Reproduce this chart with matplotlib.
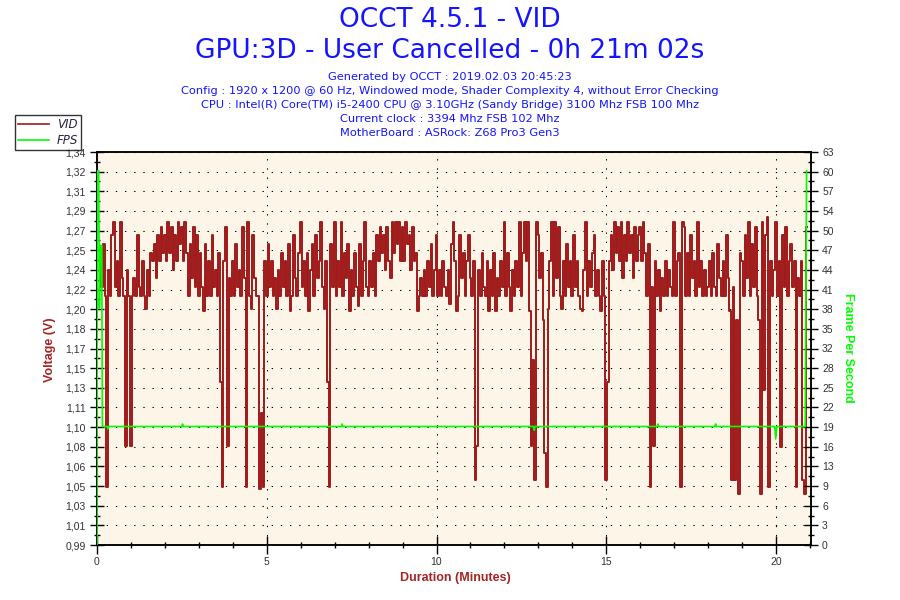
import numpy as np
import matplotlib
matplotlib.use("Agg")
import matplotlib.pyplot as plt
from matplotlib.lines import Line2D

# ---- text ----
title_lines = ["OCCT 4.5.1 - VID", "GPU:3D - User Cancelled - 0h 21m 02s"]
info_lines = [
    "Generated by OCCT : 2019.02.03 20:45:23",
    "Config : 1920 x 1200 @ 60 Hz, Windowed mode, Shader Complexity 4, without Error Checking",
    "CPU : Intel(R) Core(TM) i5-2400 CPU @ 3.10GHz (Sandy Bridge) 3100 Mhz FSB 100 Mhz",
    "Current clock : 3394 Mhz FSB 102 Mhz",
    "MotherBoard : ASRock: Z68 Pro3 Gen3",
]

# ---- axes ----
volt_min, volt_max = 0.99, 1.34
volt_labels = ["0,99", "1,01", "1,03", "1,05", "1,06", "1,08", "1,10", "1,11", "1,13", "1,15",
               "1,17", "1,18", "1,20", "1,22", "1,24", "1,25", "1,27", "1,29", "1,31", "1,32", "1,34"]
fps_max = 63
fps_labels = ["0", "3", "6", "9", "13", "16", "19", "22", "25", "28", "32",
              "35", "38", "41", "44", "47", "50", "54", "57", "60", "63"]
x_max = 21.03
x_ticks = [0, 5, 10, 15, 20]

# ---- VID samples, one every 3 s (0.05 min), starting at 0.10 min ----
vid_start = 0.10
vid_step = 0.05
vid_m00 = [1.250, 1.220, 1.258, 1.212, 1.042, 1.235, 1.212, 1.266, 1.278, 1.220,
           1.243, 1.212, 1.278, 1.228, 1.212, 1.078, 1.235, 1.212]
vid_m01 = [1.078, 1.212, 1.228, 1.212, 1.266, 1.220, 1.212, 1.243, 1.212, 1.200,
           1.235, 1.212, 1.250, 1.243, 1.258, 1.228, 1.266, 1.243, 1.273, 1.250]
vid_m02 = [1.266, 1.243, 1.278, 1.250, 1.273, 1.235, 1.266, 1.243, 1.278, 1.258,
           1.273, 1.243, 1.278, 1.250, 1.212, 1.258, 1.228, 1.273, 1.220, 1.266]
vid_m03 = [1.212, 1.250, 1.220, 1.198, 1.258, 1.212, 1.243, 1.212, 1.266, 1.220,
           1.235, 1.212, 1.250, 1.135, 1.042, 1.243, 1.273, 1.078, 1.228, 1.212]
vid_m04 = [1.243, 1.212, 1.258, 1.220, 1.235, 1.212, 1.273, 1.228, 1.042, 1.278,
           1.212, 1.200, 1.266, 1.228, 1.212, 1.212, 1.040, 1.108, 1.042, 1.243]
vid_m05 = [1.212, 1.258, 1.220, 1.243, 1.212, 1.228, 1.200, 1.235, 1.212, 1.250,
           1.220, 1.243, 1.212, 1.258, 1.198, 1.212, 1.266, 1.228, 1.212, 1.250]
vid_m06 = [1.278, 1.220, 1.243, 1.212, 1.250, 1.198, 1.235, 1.258, 1.212, 1.266,
           1.228, 1.243, 1.278, 1.220, 1.200, 1.243, 1.135, 1.042, 1.258, 1.220]
vid_m07 = [1.278, 1.212, 1.243, 1.220, 1.278, 1.212, 1.250, 1.228, 1.258, 1.198,
           1.235, 1.212, 1.250, 1.220, 1.203, 1.258, 1.212, 1.243, 1.278, 1.220]
vid_m08 = [1.212, 1.243, 1.220, 1.250, 1.212, 1.266, 1.243, 1.273, 1.250, 1.266,
           1.235, 1.273, 1.243, 1.228, 1.278, 1.250, 1.278, 1.258, 1.278, 1.243]
vid_m09 = [1.273, 1.243, 1.278, 1.258, 1.266, 1.235, 1.273, 1.243, 1.250, 1.198,
           1.212, 1.228, 1.212, 1.235, 1.212, 1.243, 1.220, 1.258, 1.212, 1.235]
vid_m10 = [1.266, 1.212, 1.235, 1.212, 1.243, 1.220, 1.212, 1.235, 1.205, 1.258,
           1.278, 1.243, 1.198, 1.212, 1.266, 1.228, 1.250, 1.212, 1.243, 1.266]
vid_m11 = [1.228, 1.212, 1.243, 1.048, 1.078, 1.235, 1.212, 1.250, 1.220, 1.212,
           1.243, 1.198, 1.235, 1.212, 1.250, 1.198, 1.228, 1.212, 1.243, 1.220]
vid_m12 = [1.278, 1.212, 1.250, 1.220, 1.198, 1.235, 1.212, 1.243, 1.220, 1.278,
           1.212, 1.250, 1.278, 1.243, 1.278, 1.198, 1.078, 1.155, 1.048, 1.278]
vid_m13 = [1.266, 1.228, 1.250, 1.190, 1.072, 1.042, 1.200, 1.243, 1.278, 1.212,
           1.278, 1.228, 1.273, 1.212, 1.200, 1.243, 1.212, 1.258, 1.220, 1.243]
vid_m14 = [1.212, 1.266, 1.220, 1.243, 1.212, 1.200, 1.198, 1.235, 1.278, 1.212,
           1.243, 1.220, 1.250, 1.266, 1.212, 1.235, 1.212, 1.198, 1.243, 1.212]
vid_m15 = [1.048, 1.135, 1.243, 1.266, 1.235, 1.278, 1.250, 1.273, 1.243, 1.278,
           1.228, 1.266, 1.243, 1.278, 1.250, 1.266, 1.228, 1.273, 1.243, 1.266]
vid_m16 = [1.273, 1.243, 1.278, 1.250, 1.212, 1.258, 1.042, 1.220, 1.078, 1.243,
           1.212, 1.235, 1.198, 1.228, 1.212, 1.243, 1.212, 1.235, 1.220, 1.212]
vid_m17 = [1.278, 1.212, 1.243, 1.250, 1.042, 1.278, 1.273, 1.212, 1.250, 1.212,
           1.266, 1.228, 1.243, 1.212, 1.278, 1.220, 1.243, 1.212, 1.235, 1.212]
vid_m18 = [1.220, 1.243, 1.212, 1.250, 1.220, 1.212, 1.258, 1.228, 1.212, 1.243,
           1.212, 1.266, 1.228, 1.198, 1.048, 1.220, 1.048, 1.190, 1.035, 1.250]
vid_m19 = [1.243, 1.212, 1.266, 1.228, 1.278, 1.212, 1.258, 1.220, 1.273, 1.212,
           1.190, 1.035, 1.278, 1.128, 1.266, 1.282, 1.042, 1.243, 1.212, 1.235]
vid_m20 = [1.278, 1.212, 1.243, 1.077, 1.266, 1.220, 1.273, 1.212, 1.243, 1.258,
           1.220, 1.243, 1.042, 1.228, 1.212, 1.243, 1.048, 1.035, 1.273]

vid = (vid_m00 + vid_m01 + vid_m02 + vid_m03 + vid_m04 + vid_m05 + vid_m06 +
       vid_m07 + vid_m08 + vid_m09 + vid_m10 + vid_m11 + vid_m12 + vid_m13 +
       vid_m14 + vid_m15 + vid_m16 + vid_m17 + vid_m18 + vid_m19 + vid_m20)
vid_time = vid_start + vid_step * np.arange(len(vid))

# ---- FPS (minutes, frames) ----
fps_time = [0.00, 0.01, 0.05, 0.07, 0.10, 0.14, 0.16, 0.30, 0.32, 0.34,
            2.50, 2.52, 2.54, 7.20, 7.22, 7.24, 12.86, 12.88, 12.90,
            16.50, 16.52, 16.54, 18.20, 18.22, 18.24, 19.96, 19.99, 20.02,
            20.86, 20.90]
fps_vals = [0, 60, 60, 38, 48, 48, 19, 19, 18.6, 19,
            19, 19.4, 19, 19, 19.4, 19, 19, 18.4, 19,
            19, 19.4, 19, 19, 19.4, 19, 19, 17.0, 19,
            19, 60]

red = "#a01a1a"
green = "#00ff00"
blue = "#1414ff"
label_red = "#a52424"
tick_col = "#333333"

fig = plt.figure(figsize=(9, 6), dpi=100, facecolor="white")
ax = fig.add_axes([97 / 900, 1 - 545 / 600, (811 - 97) / 900, (545 - 152) / 600])
ax.set_facecolor("#fdf6e8")

ax.plot(vid_time, vid, color=red, lw=1.4, drawstyle="steps-mid", zorder=3)
ax.set_xlim(0, x_max)
ax.set_ylim(volt_min, volt_max)

vstep = (volt_max - volt_min) / (len(volt_labels) - 1)
vpos = [volt_min + k * vstep for k in range(len(volt_labels))]
ax.set_yticks(vpos)
ax.set_yticklabels(volt_labels)
ax.set_yticks([v + vstep / 2 for v in vpos[:-1]], minor=True)
ax.set_xticks(x_ticks)
ax.set_xticks(np.arange(1, 22), minor=True)

ax2 = ax.twinx()
ax2.plot(fps_time, fps_vals, color=green, lw=1.2, zorder=4)
ax2.set_ylim(0, fps_max)
fstep = fps_max / (len(fps_labels) - 1)
fpos = [k * fstep for k in range(len(fps_labels))]
ax2.set_yticks(fpos)
ax2.set_yticklabels(fps_labels)
ax2.set_yticks([f + fstep / 2 for f in fpos[:-1]], minor=True)

for a in (ax, ax2):
    for s in a.spines.values():
        s.set_linewidth(1.1)
        s.set_color("black")
    a.tick_params(which="major", direction="inout", length=10, width=1.0,
                  labelsize=7.5, labelcolor=tick_col, pad=3)
    a.tick_params(which="minor", direction="inout", length=5, width=1.0)
    for lbl in a.get_xticklabels() + a.get_yticklabels():
        lbl.set_family("Liberation Sans")
ax.tick_params(axis="x", which="major", length=13, pad=2)

ax.grid(True, which="major", color="black", lw=0.75, linestyle=(0, (1.3, 7.5)), zorder=1)
ax.set_axisbelow(True)

# titles
fig.text(0.5, 1 - 20 / 600, title_lines[0], ha="center", va="center",
         fontsize=19, color=blue, family="DejaVu Sans")
fig.text(0.5, 1 - 51 / 600, title_lines[1], ha="center", va="center",
         fontsize=19, color=blue, family="DejaVu Sans")
for i, line in enumerate(info_lines):
    fig.text(0.5, 1 - (77.5 + i * 13.75) / 600, line, ha="center", va="center",
             fontsize=8.2, color=blue, family="DejaVu Sans")

fig.text(50 / 900, 1 - 350 / 600, "Voltage (V)", rotation=90, ha="center", va="center",
         fontsize=9, fontweight="bold", color=label_red, family="Liberation Sans")
fig.text(848 / 900, 1 - 348 / 600, "Frame Per Second", rotation=270, ha="center", va="center",
         fontsize=9, fontweight="bold", color=green, family="Liberation Sans")
fig.text(455 / 900, 1 - 578 / 600, "Duration (Minutes)", ha="center", va="center",
         fontsize=9, fontweight="bold", color=label_red, family="Liberation Sans")

handles = [Line2D([], [], color=red, lw=1.2), Line2D([], [], color=green, lw=1.2)]
leg = fig.legend(handles, ["VID", "FPS"], loc="upper left",
                 bbox_to_anchor=(15 / 900, 1 - 115 / 600), borderaxespad=0,
                 frameon=True, fancybox=False, edgecolor="black", borderpad=0.25,
                 handlelength=2.6, handletextpad=0.7, labelspacing=0.3,
                 prop={"family": "DejaVu Sans", "style": "italic", "size": 8.5})
leg.get_frame().set_linewidth(1.0)
for t in leg.get_texts():
    t.set_color("#222244")

fig.savefig("out.png", dpi=100, facecolor="white")
